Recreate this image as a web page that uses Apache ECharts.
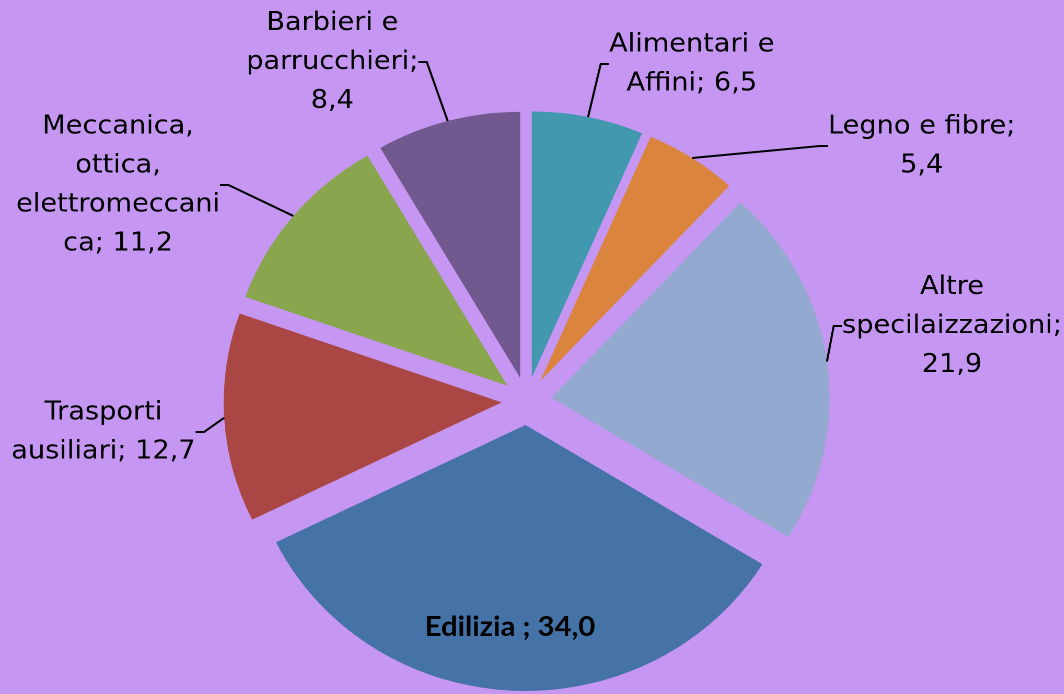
<!DOCTYPE html>
<html>
<head>
<meta charset="utf-8">
<script src="https://cdn.jsdelivr.net/npm/echarts@6/dist/echarts.min.js"></script>
<style>
  html, body { margin: 0; padding: 0; background: #c597f3; overflow: hidden; }
  /* the original pie is a little wider than tall, so stretch the chart a bit */
  #chart { width: 1018px; height: 694px; transform: scaleX(1.045); transform-origin: 0 0; }
</style>
</head>
<body>
<div id="chart"></div>
<script>
// data
const categories = [
  "Alimentari e Affini",
  "Legno e fibre",
  "Altre specilaizzazioni",
  "Edilizia",
  "Trasporti ausiliari",
  "Meccanica, ottica, elettromeccanica",
  "Barbieri e parrucchieri"
];
const values = [6.5, 5.4, 21.9, 34.0, 12.7, 11.2, 8.4];
const sliceColors = ["#4198af", "#db843d", "#93a9cf", "#4572a7", "#aa4643", "#89a54e", "#71588f"];

// label text as wrapped in the original
const labelTexts = [
  "Alimentari e\nAffini; 6,5",
  "Legno e fibre;\n5,4",
  "Altre\nspecilaizzazioni;\n21,9",
  "Edilizia ; 34,0",
  "Trasporti\nausiliari; 12,7",
  "Meccanica,\nottica,\nelettromeccani\nca; 11,2",
  "Barbieri e\nparrucchieri;\n8,4"
];
// centre of each label block (chart coords, before the stretch)
const labelSpots = [
  [662, 64], [882, 146], [911, 326], [488, 627], [99, 432], [113, 185], [318, 62]
];

const CENTER = [504, 401];
const R = 266;
const EXPLODE = 24;

const chart = echarts.init(document.getElementById("chart"), null, { devicePixelRatio: 2 });

chart.setOption({
  backgroundColor: "#c597f3",
  animation: false,
  series: [
    {
      // the exploded slices
      type: "pie",
      center: CENTER,
      radius: R,
      startAngle: 90,
      clockwise: true,
      selectedMode: "multiple",
      selectedOffset: EXPLODE,
      silent: true,
      label: { show: false },
      labelLine: { show: false },
      data: categories.map((name, i) => ({
        name,
        value: values[i],
        selected: true,
        itemStyle: { color: sliceColors[i] },
        select: { itemStyle: { color: sliceColors[i] } }
      }))
    },
    {
      // invisible copy reaching the exploded rim, carries labels + leader lines
      type: "pie",
      z: 5,
      center: CENTER,
      radius: R + EXPLODE,
      startAngle: 90,
      clockwise: true,
      silent: true,
      avoidLabelOverlap: false,
      itemStyle: { color: "rgba(0,0,0,0)" },
      label: {
        show: true,
        position: "outside",
        fontFamily: "DejaVu Sans",
        fontSize: 26,
        lineHeight: 39,
        color: "#000",
        align: "center",
        formatter: (p) => labelTexts[p.dataIndex]
      },
      labelLine: {
        show: true,
        length: 12,
        length2: 8,
        lineStyle: { color: "#000", width: 2 }
      },
      labelLayout: (p) => ({
        x: labelSpots[p.dataIndex][0],
        y: labelSpots[p.dataIndex][1],
        align: "center",
        verticalAlign: "middle"
      }),
      data: categories.map((name, i) => {
        const item = { name, value: values[i] };
        if (i === 3) {
          item.label = { fontFamily: "Lato", fontWeight: "bold", fontSize: 28 };
          item.labelLine = { show: false };
        }
        return item;
      })
    }
  ]
});
</script>
</body>
</html>
